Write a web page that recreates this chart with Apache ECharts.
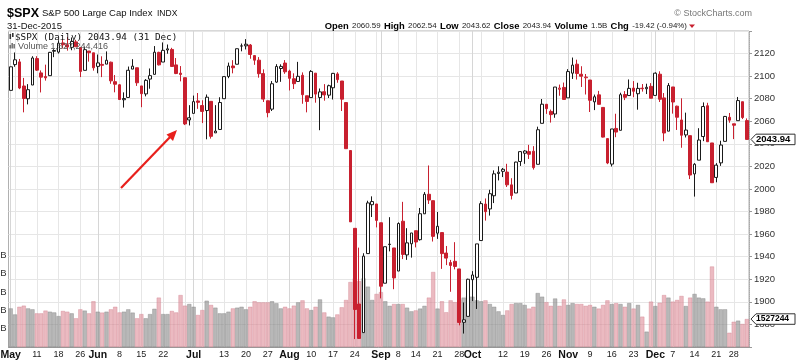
<!DOCTYPE html>
<html><head><meta charset="utf-8">
<script src="https://cdn.jsdelivr.net/npm/echarts@6/dist/echarts.min.js"></script>
<style>html,body{margin:0;padding:0;background:#fff}#c{width:800px;height:362px}</style>
</head><body><div id="c"></div><script>
const dates = ['05-01','05-04','05-05','05-06','05-07','05-08','05-11','05-12','05-13','05-14','05-15','05-18','05-19','05-20','05-21','05-22','05-26','05-27','05-28','05-29',
'06-01','06-02','06-03','06-04','06-05','06-08','06-09','06-10','06-11','06-12','06-15','06-16','06-17','06-18','06-19','06-22','06-23','06-24','06-25','06-26','06-29','06-30',
'07-01','07-02','07-06','07-07','07-08','07-09','07-10','07-13','07-14','07-15','07-16','07-17','07-20','07-21','07-22','07-23','07-24','07-27','07-28','07-29','07-30','07-31',
'08-03','08-04','08-05','08-06','08-07','08-10','08-11','08-12','08-13','08-14','08-17','08-18','08-19','08-20','08-21','08-24','08-25','08-26','08-27','08-28','08-31',
'09-01','09-02','09-03','09-04','09-08','09-09','09-10','09-11','09-14','09-15','09-16','09-17','09-18','09-21','09-22','09-23','09-24','09-25','09-28','09-29','09-30',
'10-01','10-02','10-05','10-06','10-07','10-08','10-09','10-12','10-13','10-14','10-15','10-16','10-19','10-20','10-21','10-22','10-23','10-26','10-27','10-28','10-29','10-30',
'11-02','11-03','11-04','11-05','11-06','11-09','11-10','11-11','11-12','11-13','11-16','11-17','11-18','11-19','11-20','11-23','11-24','11-25','11-27','11-30',
'12-01','12-02','12-03','12-04','12-07','12-08','12-09','12-10','12-11','12-14','12-15','12-16','12-17','12-18','12-21','12-22','12-23','12-24','12-28','12-29','12-30','12-31'];

const opens = [2087.38,2110.23,2112.63,2091.26,2079.96,2092.13,2115.56,2102.87,2099.62,2100.43,2122.07,2121.30,2129.45,2127.79,2125.55,2130.36,2125.34,2105.13,2122.27,2120.66,
2108.64,2110.41,2110.64,2112.35,2095.09,2092.34,2079.07,2081.12,2106.24,2107.43,2091.34,2084.26,2097.40,2101.58,2121.06,2112.50,2123.16,2123.65,2109.96,2102.62,2098.63,2061.19,
2067.00,2078.03,2073.95,2069.52,2077.66,2049.73,2052.74,2080.03,2099.72,2109.01,2110.55,2126.80,2126.85,2127.55,2118.21,2114.16,2102.24,2078.19,2070.75,2094.70,2106.78,2111.60,
2104.49,2097.68,2095.27,2100.75,2082.61,2080.98,2102.66,2081.10,2086.19,2083.15,2089.70,2101.99,2095.69,2076.61,2034.08,1965.15,1898.08,1872.75,1942.77,1986.06,1986.73,
1970.09,1916.52,1950.79,1947.76,1927.30,1971.45,1941.59,1951.45,1963.06,1955.10,1978.02,1995.33,1989.66,1960.84,1961.39,1943.24,1934.81,1935.93,1929.18,1881.90,1887.14,
1919.65,1921.77,1954.33,1986.63,1982.34,1994.01,2013.73,2015.65,2015.00,2003.66,1996.47,2024.37,2031.73,2033.13,2033.47,2021.88,2058.19,2075.08,2068.75,2066.48,2088.35,2090.00,
2080.76,2102.63,2110.60,2101.68,2098.60,2096.56,2077.19,2083.41,2072.29,2044.64,2022.08,2053.67,2051.99,2083.70,2082.82,2089.41,2084.42,2089.30,2088.82,2090.95,
2082.93,2101.71,2080.71,2051.24,2090.42,2073.39,2061.17,2047.93,2047.27,2013.37,2025.55,2046.50,2073.76,2040.81,2010.27,2023.15,2042.20,2063.52,2057.77,2060.54,2077.34,2060.59];

const highs = [2108.41,2120.95,2115.24,2098.42,2092.90,2117.66,2117.69,2105.06,2110.19,2121.45,2123.89,2131.78,2133.02,2134.72,2134.28,2132.15,2125.34,2126.22,2122.27,2120.66,
2119.15,2117.59,2121.92,2112.89,2100.99,2093.01,2085.62,2108.50,2115.02,2107.43,2091.34,2097.40,2106.79,2126.65,2121.64,2129.87,2128.03,2125.10,2116.04,2108.92,2098.63,2074.28,
2082.78,2085.06,2078.61,2083.74,2077.66,2074.28,2081.31,2099.88,2111.98,2114.14,2124.42,2128.91,2132.82,2128.49,2118.51,2116.87,2106.01,2078.19,2095.60,2110.60,2110.48,2114.24,
2105.70,2102.51,2112.66,2103.32,2082.61,2105.35,2102.66,2089.06,2092.93,2092.45,2102.87,2103.47,2095.69,2076.61,2034.08,1965.15,1948.04,1943.09,1989.60,1993.48,1986.73,
1970.09,1948.91,1975.01,1947.76,1970.42,1988.63,1965.29,1961.05,1963.06,1983.19,1997.26,2020.86,1989.66,1979.64,1961.39,1949.52,1937.17,1952.89,1929.18,1899.48,1920.53,
1927.21,1951.36,1989.17,1991.62,1999.31,2016.50,2020.13,2018.66,2022.34,2009.56,2024.15,2033.54,2034.45,2039.12,2037.97,2055.20,2079.74,2075.14,2070.37,2090.35,2092.52,2094.32,
2106.20,2116.48,2114.59,2108.78,2101.91,2096.56,2083.67,2086.94,2072.29,2044.64,2053.22,2066.69,2085.31,2086.74,2097.06,2095.61,2094.12,2093.00,2093.29,2093.81,
2103.37,2104.27,2085.00,2093.84,2090.42,2073.85,2080.33,2067.65,2047.27,2022.92,2053.87,2076.72,2076.37,2040.81,2022.90,2042.74,2064.73,2067.36,2057.77,2081.56,2077.34,2062.54];

const lows = [2087.38,2108.29,2088.46,2067.93,2074.99,2092.13,2104.58,2085.57,2096.04,2100.43,2116.81,2120.01,2124.50,2122.59,2122.95,2126.06,2099.18,2105.13,2112.86,2104.89,
2102.54,2099.14,2110.64,2093.23,2085.67,2079.11,2072.14,2081.12,2106.24,2091.33,2072.49,2082.10,2088.86,2101.58,2109.45,2112.50,2119.89,2108.58,2101.78,2095.38,2056.64,2056.32,
2067.00,2071.02,2058.40,2044.02,2044.66,2049.73,2052.74,2080.03,2098.18,2102.49,2110.55,2122.01,2123.66,2115.40,2110.00,2098.63,2077.09,2063.52,2069.09,2094.08,2094.97,2102.07,
2087.31,2088.60,2095.27,2075.53,2067.91,2080.98,2076.49,2052.09,2078.26,2080.61,2079.30,2094.14,2069.09,2035.73,1970.89,1867.01,1867.08,1872.75,1942.77,1975.19,1965.98,
1903.07,1916.52,1944.72,1911.21,1927.30,1937.88,1937.19,1939.19,1948.27,1954.30,1977.93,1986.73,1953.45,1955.80,1929.22,1932.57,1908.92,1928.78,1879.21,1871.91,1887.14,
1900.70,1893.70,1954.33,1971.99,1976.44,1987.53,2007.61,2010.55,2001.78,1990.73,1996.47,2020.46,2022.31,2026.61,2017.22,2021.88,2058.19,2066.53,2058.84,2063.11,2082.63,2079.34,
2080.76,2097.51,2096.98,2090.41,2083.74,2068.24,2069.91,2074.85,2045.66,2022.02,2019.94,2045.90,2051.99,2078.76,2082.82,2081.39,2070.29,2086.30,2084.13,2080.41,
2082.93,2077.11,2042.35,2051.24,2066.78,2052.32,2036.53,2045.67,2008.80,1993.26,2025.55,2042.43,2041.66,2005.33,2005.93,2020.49,2042.20,2058.73,2044.20,2060.54,2061.97,2043.62];

const closes = [2108.29,2114.49,2089.46,2080.15,2088.00,2116.10,2105.33,2099.12,2098.48,2121.10,2122.73,2129.20,2127.83,2125.85,2130.82,2126.06,2104.20,2123.48,2120.79,2107.39,
2111.73,2109.60,2114.07,2095.84,2092.83,2079.28,2080.15,2105.20,2108.86,2094.11,2084.43,2096.29,2100.44,2121.24,2109.99,2122.85,2124.20,2108.58,2102.31,2101.49,2057.64,2063.11,
2077.42,2076.78,2068.76,2081.34,2046.68,2051.31,2076.62,2099.60,2108.95,2107.40,2124.29,2126.64,2128.28,2119.21,2114.15,2102.15,2079.65,2067.64,2093.25,2108.57,2108.63,2103.84,
2098.04,2093.32,2099.84,2083.56,2077.57,2104.18,2084.07,2086.05,2083.39,2091.54,2102.44,2096.92,2079.61,2035.73,1970.89,1893.21,1867.61,1940.51,1987.66,1988.87,1972.18,
1913.85,1948.86,1951.13,1921.22,1969.41,1942.04,1952.29,1961.05,1953.03,1978.09,1995.31,1990.20,1958.03,1966.97,1942.74,1938.76,1932.24,1931.34,1881.77,1884.09,1920.03,
1923.82,1951.36,1987.05,1979.92,1995.83,2013.43,2014.89,2017.46,2003.69,1994.24,2023.86,2033.11,2033.66,2030.77,2018.94,2052.51,2075.15,2071.18,2065.89,2090.35,2089.41,2079.36,
2104.05,2109.79,2102.31,2099.93,2099.20,2078.58,2081.72,2075.00,2045.97,2023.04,2053.19,2050.44,2083.58,2081.24,2089.17,2086.59,2089.14,2088.87,2090.11,2080.41,
2102.63,2079.51,2049.62,2091.69,2077.07,2063.59,2047.62,2052.23,2012.37,2021.94,2043.41,2073.07,2041.89,2005.55,2021.15,2038.97,2064.29,2060.99,2056.50,2078.36,2063.36,2043.94];

const prevClose = 2085.51;

// volume in billions of shares
const volumes = [2.11,1.78,2.2,2.26,2.11,2.06,1.84,1.84,1.99,1.93,1.89,1.69,1.97,1.93,1.84,1.57,2.06,1.99,1.84,2.5,
1.93,1.88,1.93,2.06,2.2,1.89,1.93,2.06,1.88,1.57,1.8,1.57,1.8,2.09,2.7,1.8,1.8,1.97,1.89,2.84,2.26,2.35,
2.2,1.75,2.02,2.53,2.3,2.15,1.84,1.84,1.93,2.11,2.15,2.2,2.06,2.2,2.5,2.44,2.44,2.44,2.5,2.39,2.11,2.2,
2.11,2.26,2.44,2.55,2.11,2.02,2.2,2.6,1.89,1.66,1.62,1.78,2.17,2.57,3.55,3.75,3.6,3.75,3.3,2.57,2.9,
3.0,2.5,2.25,2.35,2.35,2.35,2.15,1.95,2.0,2.1,2.25,2.7,4.1,2.1,2.5,1.9,2.55,2.45,2.6,2.7,2.8,
2.75,2.55,2.5,2.55,2.35,2.2,1.95,1.75,2.0,2.35,2.4,2.4,2.3,2.1,2.2,2.95,2.75,2.45,2.25,2.65,2.25,2.6,
2.3,2.4,2.35,2.35,2.25,2.3,2.2,2.1,2.3,2.55,2.35,2.4,2.35,2.2,2.4,2.1,2.3,1.66,0.84,2.48,
2.24,2.42,2.84,2.7,2.48,2.57,2.79,2.24,2.7,2.9,2.7,2.66,2.48,4.4,2.2,2.06,2.06,0.78,1.38,1.44,1.26,1.527244416];

const tickIndex = [0,6,11,16,20,25,30,35,42,49,54,59,64,69,74,79,85,89,93,98,103,106,113,118,123,128,133,138,143,148,152,157,162,166];
const tickText = ['May','11','18','26','Jun','8','15','22','Jul','13','20','27','Aug','10','17','24','Sep','8','14','21','28','Oct','12','19','26','Nov','9','16','23','Dec','7','14','21','28'];
const gridIndex = [0,1,6,11,16,20,25,30,35,40,42,44,49,54,59,64,69,74,79,84,85,89,93,98,103,106,108,113,118,123,128,133,138,143,147,148,152,157,162,166];
const monthIndex = [0,20,42,64,85,106,128,148];

const RED = '#c8202f', BLK = '#1a1a1a';
const FONT = 'Liberation Sans, Arial, sans-serif';

const candleData = dates.map((d, i) => {
  const o = opens[i], c = closes[i], l = lows[i], h = highs[i];
  const prev = i > 0 ? closes[i - 1] : prevClose;
  const col = c < prev ? RED : BLK;
  const fill = c >= o ? '#ffffff' : col;
  return { value: [o, c, l, h], itemStyle: { color: fill, color0: fill, borderColor: col, borderColor0: col, borderColorDoji: col } };
});
const volData = dates.map((d, i) => {
  const prev = i > 0 ? closes[i - 1] : prevClose;
  const down = closes[i] < prev;
  return { value: volumes[i], itemStyle: { color: down ? 'rgba(222,140,152,0.6)' : 'rgba(140,140,140,0.62)', borderColor: down ? 'rgba(205,120,135,0.7)' : 'rgba(120,120,120,0.7)', borderWidth: 0.5 } };
});
const labelMap = {};
tickIndex.forEach((k, j) => labelMap[k] = tickText[j]);
const isMonth = t => /^[A-Z]/.test(t);

const chart = echarts.init(document.getElementById('c'), null, { renderer: 'canvas' });
chart.setOption({
  animation: false,
  backgroundColor: '#fff',
  grid: { left: 8.5, right: 51, top: 31, bottom: 15, containLabel: false, outerBoundsMode: 'none',
    show: true, borderColor: '#b0b0b0', borderWidth: 1, backgroundColor: 'transparent' },
  xAxis: {
    type: 'category', data: dates, boundaryGap: true,
    axisLine: { show: true, lineStyle: { color: '#999' } },
    axisTick: { show: false },
    splitLine: { show: false },
    axisLabel: {
      interval: (idx) => labelMap[idx] !== undefined,
      formatter: (v, idx) => { const t = labelMap[idx]; if (t === undefined) return ''; return isMonth(t) ? '{m|' + t + '}' : '{d|' + t + '}'; },
      margin: 3, hideOverlap: false,
      rich: {
        m: { fontFamily: FONT, fontWeight: 'bold', fontSize: 10.5, color: '#111' },
        d: { fontFamily: FONT, fontSize: 9, color: '#222' }
      }
    }
  },
  yAxis: [
    { type: 'value', position: 'right', min: 1860, max: 2140, interval: 20, scale: false,
      axisLine: { show: true, lineStyle: { color: '#aaa', type: 'dotted' } },
      axisTick: { show: true, length: 3, lineStyle: { color: '#999' } },
      splitLine: { show: true, lineStyle: { color: '#e6e6e6', width: 1 } },
      axisLabel: { margin: 5, fontFamily: FONT, fontSize: 9.5, color: '#333', formatter: v => (v <= 1860 || v >= 2140) ? '' : String(v) } },
    { type: 'value', position: 'left', min: 0, max: 17.27, interval: 1,
      axisLine: { show: false }, axisTick: { show: false }, splitLine: { show: false },
      axisLabel: { margin: 2, fontFamily: FONT, fontSize: 9.5, color: '#333', formatter: v => (v >= 1 && v <= 5) ? v + 'B' : '' } }
  ],
  series: [
    { name: 'Volume', type: 'bar', xAxisIndex: 0, yAxisIndex: 1, data: volData, barCategoryGap: '4%', z: 2, silent: true,
      markLine: { silent: true, symbol: ['none', 'none'], label: { show: false }, z: 1, animation: false,
        data: gridIndex.map(k => ({ xAxis: k, lineStyle: { color: monthIndex.includes(k) ? '#d6d6d6' : '#e6e6e6', width: 1, type: 'solid' } })) } },
    { name: '$SPX', type: 'candlestick', xAxisIndex: 0, yAxisIndex: 0, data: candleData, barWidth: 3.2, z: 6, silent: true }
  ]
});

// overlays: header texts, legend, price tags, annotation arrow
const lastClose = closes[closes.length - 1];
const lastVol = volumes[volumes.length - 1];
const yPrice = chart.convertToPixel({ yAxisIndex: 0 }, lastClose);
const yVol = chart.convertToPixel({ yAxisIndex: 1 }, lastVol);
const axX = 750;
function tag(y, text, fs) {
  const h = 10.5, w = 45;
  return [
    { type: 'polygon', z: 100, shape: { points: [[axX + 1, y], [axX + 6, y - h / 2], [axX + w, y - h / 2], [axX + w, y + h / 2], [axX + 6, y + h / 2]] }, style: { fill: '#fff', stroke: '#333', lineWidth: 1 } },
    { type: 'text', z: 101, x: axX + 6, y: y, style: { text: text, font: 'bold ' + fs + 'px ' + FONT, fill: '#000', verticalAlign: 'middle', align: 'left' } }
  ];
}
const hdr = '{b|Open} {v|2060.59} {b|High} {v|2062.54} {b|Low} {v|2043.62} {b|Close} {v|2043.94} {b|Volume} {v|1.5B} {b|Chg} {v|-19.42 (-0.94%)}';
chart.setOption({
  graphic: [
    { type: 'text', x: 7, y: 7, style: { text: '$SPX', font: 'bold 12.5px ' + FONT, fill: '#000' } },
    { type: 'text', x: 42, y: 8.5, style: { text: 'S&P 500 Large Cap Index', font: '9.5px ' + FONT, fill: '#111' } },
    { type: 'text', x: 157, y: 9.5, style: { text: 'INDX', font: '8.5px ' + FONT, fill: '#111' } },
    { type: 'text', x: 7, y: 21, style: { text: '31-Dec-2015', font: '9.5px ' + FONT, fill: '#111' } },
    { type: 'text', x: 752, y: 9, style: { text: '\u00A9 StockCharts.com', font: '9px ' + FONT, fill: '#777', align: 'right' } },
    { type: 'text', x: 687, y: 26, style: { text: hdr, align: 'right', verticalAlign: 'middle',
        rich: { b: { font: 'bold 9.4px ' + FONT, fill: '#000' }, v: { font: '7.9px ' + FONT, fill: '#222' } } } },
    { type: 'polygon', shape: { points: [[689, 24.5], [695, 24.5], [692, 28]] }, style: { fill: RED } },
    // legend
    { type: 'rect', z: 50, shape: { x: 9.5, y: 34, width: 1.6, height: 5 }, style: { fill: '#333' } },
    { type: 'rect', z: 50, shape: { x: 12, y: 33, width: 1.6, height: 4 }, style: { fill: '#333' } },
    { type: 'text', z: 50, x: 15, y: 37.5, style: { text: '$SPX (Daily) 2043.94 (31 Dec)', font: '9.3px DejaVu Sans Mono, monospace', fill: '#111', verticalAlign: 'middle' } },
    { type: 'rect', z: 50, shape: { x: 9.5, y: 45, width: 1.3, height: 3.5 }, style: { fill: '#555' } },
    { type: 'rect', z: 50, shape: { x: 11.5, y: 43, width: 1.3, height: 5.5 }, style: { fill: '#555' } },
    { type: 'rect', z: 50, shape: { x: 13.5, y: 44, width: 1.3, height: 4.5 }, style: { fill: '#555' } },
    { type: 'text', z: 50, x: 18, y: 46.5, style: { text: 'Volume 1,527,244,416', font: '9px ' + FONT, fill: '#555', verticalAlign: 'middle' } },
    // annotation arrow
    { type: 'line', z: 60, shape: { x1: 121, y1: 188, x2: 172, y2: 135 }, style: { stroke: '#e8201c', lineWidth: 2.2 } },
    { type: 'polygon', z: 60, shape: { points: [[177, 130], [166.5, 134.5], [173, 141]] }, style: { fill: '#e8201c' } },
    ...tag(yPrice, lastClose.toFixed(2), 9.5),
    ...tag(yVol, String(Math.round(lastVol * 1e6)), 8.5)
  ]
});
</script></body></html>
